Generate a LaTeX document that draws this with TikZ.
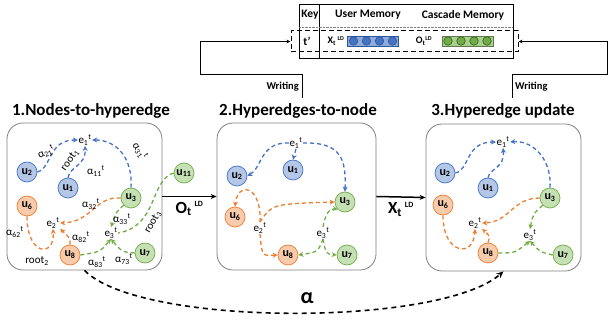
\documentclass[tikz,border=0pt]{standalone}
\usepackage{fontspec}
\setmainfont{Carlito}
\usepackage{tikz}
\usetikzlibrary{arrows.meta}
\usetikzlibrary{positioning}

\definecolor{eblue}{HTML}{4472C4}
\definecolor{eorange}{HTML}{ED7D31}
\definecolor{egreen}{HTML}{70AD47}
\definecolor{fblue}{HTML}{B4C7E7}
\definecolor{forange}{HTML}{F8CBAD}
\definecolor{fgreen}{HTML}{C5E0B4}
\definecolor{bbarf}{HTML}{8FAADC}
\definecolor{bbard}{HTML}{2F5597}
\definecolor{gbarf}{HTML}{A9D18E}
\definecolor{gbard}{HTML}{385723}

\newcommand{\usr}[1]{u\textsubscript{#1}}
\newcommand{\hyp}[1]{e\textsubscript{#1}\textsuperscript{t}}
\newcommand{\wgt}[1]{α\textsubscript{#1}\textsuperscript{t}}
\newcommand{\rootn}[1]{root\textsubscript{#1}}
\newcommand{\ld}[1]{#1\textsubscript{t}\,\textsuperscript{\fontsize{8}{8}\selectfont LD}}

\tikzset{>=Stealth,
  unode/.style={circle,draw,line width=0.7pt,minimum size=20pt,inner sep=0pt,
    font=\fontsize{12}{12}\selectfont\bfseries},
  ubl/.style={unode,draw=eblue,fill=fblue},
  uor/.style={unode,draw=eorange,fill=forange},
  ugr/.style={unode,draw=egreen,fill=fgreen},
  lab/.style={inner sep=0.5pt,font=\fontsize{11}{11}\selectfont},
  hedge/.style={line width=1.3pt,dash pattern=on 4pt off 3pt,
    -{Stealth[length=5pt,width=5pt]}},
  bedge/.style={hedge,draw=eblue},
  oedge/.style={hedge,draw=eorange},
  gedge/.style={hedge,draw=egreen},
  panel/.style={draw=gray,line width=0.8pt,rounded corners=16pt,inner sep=0pt},
  ttl/.style={font=\fontsize{17}{17}\selectfont\bfseries},
  plink/.style={line width=1.5pt,-{Stealth[length=6pt,width=5pt]}},
  alink/.style={line width=1.6pt,dash pattern=on 5pt off 4pt,
    -{Stealth[length=7pt,width=6pt]}},
  wlink/.style={line width=0.6pt,-{Stealth[length=4pt,width=3.5pt]}},
  memtxt/.style={inner sep=1pt,font=\fontsize{11.5}{12}\selectfont\bfseries},
  wtxt/.style={inner sep=1pt,font=\fontsize{10.5}{11}\selectfont\bfseries},
  bdot/.style={circle,draw=bbard,fill=eblue,line width=0.6pt,minimum size=8.5pt,inner sep=0pt},
  gdot/.style={circle,draw=gbard,fill=egreen,line width=0.6pt,minimum size=8.5pt,inner sep=0pt}}

\begin{document}
\begin{tikzpicture}[x=1pt,y=-1pt]
  \useasboundingbox (0,0) rectangle (608,320);

  % memory table
  \node[draw,line width=0.8pt,minimum width=214pt,minimum height=54pt,inner sep=0pt] (mem) at (406,31) {};
  \draw [line width=0.6pt] (319,4) -- (319,58);
  \draw [densely dotted,gray] (299,27) -- (513,27);
  \node[memtxt] (key) at (310,15) {Key};
  \node[memtxt] (umem) at (368,15) {User Memory};
  \node[memtxt] (cmem) at (463,15) {Cascade Memory};
  \node[draw,line width=1pt,dash pattern=on 5pt off 3pt,minimum width=227pt,minimum height=21pt,inner sep=0pt] (row) at (404.5,41.5) {};
  \node[memtxt] (tk) at (307,41) {t’};
  \node[inner sep=1pt,font=\fontsize{10}{10}\selectfont\bfseries] (xld) at (336,41) {X\textsubscript{t}\,\textsuperscript{\fontsize{6}{6}\selectfont LD}};
  \node[draw=bbard,fill=bbarf,line width=0.7pt,minimum width=51pt,minimum height=10pt,inner sep=0pt] (ubar) at (372.5,41) {};
  \foreach \i in {0,...,3}
    \node[bdot] (bd\i) at ({353.5+13*\i},41) {};
  \node[inner sep=1pt,font=\fontsize{10}{10}\selectfont\bfseries] (old) at (424,41) {O\textsubscript{t}\textsuperscript{\fontsize{6}{6}\selectfont LD}};
  \node[draw=gbard!80,fill=gbarf,line width=0.7pt,minimum width=51pt,minimum height=10pt,inner sep=0pt] (cbar) at (467.5,41) {};
  \foreach \i in {0,...,3}
    \node[gdot] (gd\i) at ({448+13*\i},41) {};

  % writing
  \coordinate (wl) at (302,98);
  \coordinate (wlc) at (200,74);
  \coordinate (wr) at (512,98);
  \coordinate (wrc) at (607,74);
  \draw [wlink] (wl) |- (wlc) |- (row.west);
  \draw [wlink] (wr) |- (wrc) |- (row.east);
  \node[wtxt,anchor=east] (wtl) at (300,87) {Writing};
  \node[wtxt,anchor=west] (wtr) at (514,87) {Writing};

  % panels
  \node[panel,minimum width=155pt,minimum height=147pt] (box1) at (84.5,196.5) {};
  \node[panel,minimum width=159pt,minimum height=147pt] (box2) at (296.5,196.5) {};
  \node[panel,minimum width=155pt,minimum height=147pt] (box3) at (503.5,197.5) {};
  \node[ttl] (t1) at (91,111) {1.Nodes-to-hyperedge};
  \node[ttl] (t2) at (298,111) {2.Hyperedges-to-node};
  \node[ttl] (t3) at (503,111) {3.Hyperedge update};

  \draw [plink] (box1.east) -- node[below=1pt,font=\fontsize{17}{17}\selectfont\bfseries] (olab) {\ld{O}} (box2.west);
  \draw [plink] (box2.east) -- node[below=1pt,font=\fontsize{17}{17}\selectfont\bfseries] (xlab) {\ld{X}} (box3.west);

  % 1. nodes to hyperedge
  \node[ubl] (au2) at (27,172) {\usr{2}};
  \node[ubl] (au1) at (68,188) {\usr{1}};
  \node[ugr] (au3) at (131,198) {\usr{3}};
  \node[uor] (au6) at (27,206) {\usr{6}};
  \node[uor] (au8) at (70,255) {\usr{8}};
  \node[ugr] (au7) at (145,253) {\usr{7}};
  \node[ugr] (au11) at (184,173) {\usr{11}};
  \node[lab] (ae1) at (85,140) {\hyp{1}};
  \node[lab] (ae2) at (53,223) {\hyp{2}};
  \node[lab] (ae3) at (111,233) {\hyp{3}};

  \draw [bedge] (au2.east) .. controls (52,168) and (48,140) .. (ae1.west);
  \draw [bedge] (au1.north) .. controls (70,166) and (86,166) .. (ae1.south);
  \draw [bedge] (au3.north) .. controls (133,160) and (118,140) .. (ae1.east);
  \draw [oedge] (au3.west) .. controls (95,196) and (92,222) .. (ae2.east);
  \draw [oedge] (au8.north) .. controls (70,238) .. (ae2.south east);
  \draw [oedge] (au6.south) .. controls (27,256) and (55,258) .. (ae2.south);
  \draw [gedge] (au3.south west) .. controls (116,212) .. (ae3.north);
  \draw [gedge] (au7.west) .. controls (122,252) .. (ae3.south);
  \draw [gedge] (au8.east) .. controls (100,252) .. (ae3.south);
  \draw [gedge,-] (au11.west) .. controls (150,180) and (158,226) .. (ae3.east);

  \node[lab,rotate=25] (a21) at (46,152) {\wgt{21}};
  \node[lab,rotate=55] (r1) at (70,160) {\rootn{1}};
  \node[lab] (a11) at (96,171) {\wgt{11}};
  \node[lab,rotate=-55] (a31) at (140,151) {\wgt{31}};
  \node[lab] (a32) at (91,204) {\wgt{32}};
  \node[lab] (a33) at (122,219) {\wgt{33}};
  \node[lab,rotate=60] (r3) at (153,222) {\rootn{3}};
  \node[lab] (a62) at (15,232) {\wgt{62}};
  \node[lab] (a82) at (81,237) {\wgt{82}};
  \node[lab] (r2) at (37,261) {\rootn{2}};
  \node[lab] (a83) at (97,262) {\wgt{83}};
  \node[lab] (a73) at (124,259) {\wgt{73}};

  % 2. hyperedges to node
  \node[ubl] (bu2) at (237,176) {\usr{2}};
  \node[ubl] (bu1) at (293,170) {\usr{1}};
  \node[ugr] (bu3) at (345,202) {\usr{3}};
  \node[uor] (bu6) at (235,217) {\usr{6}};
  \node[uor] (bu8) at (288,255) {\usr{8}};
  \node[ugr] (bu7) at (347,255) {\usr{7}};
  \node[lab] (be1) at (296,143) {\hyp{1}};
  \node[lab] (be2) at (260,228) {\hyp{2}};
  \node[lab] (be3) at (323,233) {\hyp{3}};

  \draw [bedge] (be1.west) .. controls (260,142) and (262,168) .. (bu2.east);
  \draw [bedge] (be1.south) -- (bu1.north);
  \draw [bedge] (be1.east) .. controls (342,142) and (346,160) .. (bu3.north);
  \draw [oedge] (be2.north) .. controls (262,186) and (238,180) .. (bu6.north);
  \draw [oedge] (be2.north) .. controls (272,204) .. (bu3.west);
  \draw [oedge] (be2.south) .. controls (262,256) .. (bu8.west);
  \draw [gedge] (be3.north) .. controls (325,214) and (330,208) .. (bu3.south west);
  \draw [gedge] (be3.south) .. controls (318,252) .. (bu8.east);
  \draw [gedge] (be3.south) .. controls (326,254) .. (bu7.west);

  % 3. hyperedge update
  \node[ubl] (cu2) at (445,173) {\usr{2}};
  \node[ubl] (cu1) at (488,188) {\usr{1}};
  \node[ugr] (cu3) at (550,198) {\usr{3}};
  \node[uor] (cu6) at (443,205) {\usr{6}};
  \node[uor] (cu8) at (488,253) {\usr{8}};
  \node[ugr] (cu7) at (563,255) {\usr{7}};
  \node[lab] (ce1) at (503,142) {\hyp{1}};
  \node[lab] (ce2) at (475,223) {\hyp{2}};
  \node[lab] (ce3) at (530,235) {\hyp{3}};

  \draw [bedge] (cu2.east) .. controls (470,170) and (465,142) .. (ce1.west);
  \draw [bedge] (cu1.north) .. controls (490,168) and (505,168) .. (ce1.south);
  \draw [bedge] (cu3.north) .. controls (552,162) and (535,140) .. (ce1.east);
  \draw [oedge] (cu3.west) .. controls (512,198) and (510,222) .. (ce2.east);
  \draw [oedge] (cu8.north) .. controls (490,236) .. (ce2.south east);
  \draw [oedge] (cu6.south) .. controls (443,255) and (474,258) .. (ce2.south);
  \draw [gedge] (cu3.south west) .. controls (533,214) .. (ce3.north);
  \draw [gedge] (cu7.west) .. controls (540,252) .. (ce3.south);
  \draw [gedge] (cu8.east) .. controls (515,253) .. (ce3.south);

  % alpha
  \draw [alink] (box1.south) .. controls (140,327) and (440,327) .. (box3.south);
  \node[font=\fontsize{22}{22}\selectfont\bfseries] (alp) at (307,298) {α};

\end{tikzpicture}
\end{document}
